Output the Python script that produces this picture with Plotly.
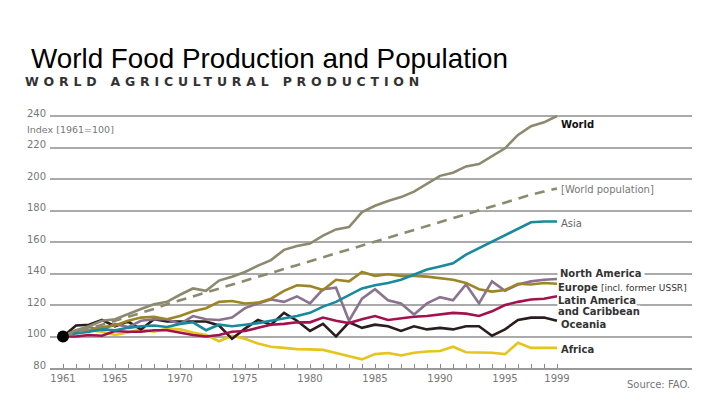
import plotly.graph_objects as go

years = list(range(1961, 2000))
label_years = [1961, 1965, 1970, 1975, 1980, 1985, 1990, 1995, 1999]
y_ticks = [80, 100, 120, 140, 160, 180, 200, 220, 240]

world = [100, 104, 106.5, 110, 111, 114.5, 117.5, 120.5, 122, 126.5,
         130.5, 129, 135.5, 138, 141, 145, 148.5, 155, 157.5, 159,
         164, 168, 169.5, 179, 183, 186, 188.5, 192, 197, 202,
         204, 208, 209.5, 214.5, 219.5, 228, 233.5, 236, 240]
world_population = [100, 102.5, 105, 107.5, 110, 112.5, 115, 117.5, 120.5, 123,
                    125.5, 128, 130.5, 133, 135.5, 138, 140.5, 143, 145.5, 148,
                    150.5, 153, 155.5, 158, 160.5, 163, 165.5, 168, 170.5, 173,
                    175.5, 178, 180.5, 183, 185.5, 188, 190, 192, 194]
asia = [100, 102, 103, 104.5, 104, 105.5, 106.5, 107, 106, 108,
        109, 104, 107.5, 106.5, 107.5, 108.5, 110, 111.5, 113, 115,
        119, 122, 126.5, 130.5, 132.5, 134, 136, 139.5, 142.5, 144.5,
        146.5, 152, 156, 160, 164, 168, 172.5, 173, 173]
north_america = [100, 103, 106, 104, 108, 106, 110, 111, 111, 108,
                 113, 111, 110.5, 112, 118, 121, 123.5, 122, 125.5, 121,
                 130, 131, 110, 124, 130, 123, 121, 114, 121, 125,
                 123, 133, 121, 135, 129, 133, 135, 136, 136.5]
europe = [100, 104, 104, 106, 107, 110, 112, 112.5, 111, 113,
          116, 118, 122, 122.5, 121, 121.5, 124, 129, 132.5, 132,
          129.5, 136, 135, 141, 138.5, 139.5, 138.5, 138.5, 138, 137,
          136, 134, 130, 128.5, 129.5, 133.5, 133, 134, 133.5]
latin_america = [100, 100, 101, 100.5, 103.5, 103, 103, 104, 104, 102.5,
                 101, 100, 101, 103, 103.5, 105.5, 107.5, 108, 109, 109,
                 112, 110, 108.5, 111, 113, 110.5, 111.5, 112.5, 113, 114,
                 115, 114.5, 113, 116, 120, 122, 123.5, 124, 125.5]
oceania = [100, 107, 107.5, 110.5, 106.5, 109.5, 104.5, 111, 109.5, 109.5,
           109.5, 109.5, 107, 98.5, 105, 110.5, 107.5, 115, 110, 103.5,
           108, 100, 109, 105.5, 107.5, 106.5, 103.5, 106.5, 104.5, 105.5,
           104.5, 106.5, 106.5, 100.5, 104.5, 110.5, 112, 112, 110]
africa = [100, 102, 104, 103, 101, 102.5, 104.5, 103, 105, 104.5,
          102.5, 101, 97, 100.5, 98.5, 95.5, 93.5, 92.8, 92, 91.8,
          91.5, 89.5, 87.5, 85.5, 88.8, 89.5, 88, 89.7, 90.5, 90.8,
          93.5, 90, 89.8, 89.7, 88.8, 96, 92.8, 92.8, 92.8]

series = [
    ("Africa", africa, "#e5c41c", None),
    ("Oceania", oceania, "#2b1d1e", None),
    ("Latin America and Caribbean", latin_america, "#a3124e", None),
    ("North America", north_america, "#8b7290", None),
    ("Europe", europe, "#9c8526", None),
    ("Asia", asia, "#178a9c", None),
    ("World population", world_population, "#8c8a6e", "10px,7px"),
    ("World", world, "#8c8a6e", None),
]

fig = go.Figure()
for name, vals, color, dash in series:
    fig.add_trace(go.Scatter(
        x=years, y=vals, mode="lines", name=name,
        line=dict(color=color, width=2.6, dash=dash) if dash else dict(color=color, width=2.6),
        hoverinfo="skip"))
fig.add_trace(go.Scatter(x=[years[0]], y=[world[0]], mode="markers",
                         marker=dict(color="black", size=12), hoverinfo="skip"))

L, R, T, B = 50, 28, 114, 37
W, H = 720, 405
PW, PH = W - L - R, H - T - B


def px(xp):
    return (xp - L) / PW


def py(yp):
    return (H - B - yp) / PH


FONT = "DejaVu Sans"
ann = []


def add(text, xp, yp, size=10, color="#333", xanchor="left", bg=None, family=FONT, pad=1):
    d = dict(text=text, x=px(xp), y=py(yp), xref="paper", yref="paper",
             xanchor=xanchor, yanchor="middle", showarrow=False,
             font=dict(family=family, size=size, color=color), borderpad=pad)
    if bg:
        d["bgcolor"] = bg
    ann.append(d)


add("World Food Production and Population", 29, 59, size=27.8, color="#000",
    family="Liberation Sans")
add('<span style="letter-spacing:4.8px"><b>WORLD AGRICULTURAL PRODUCTION</b></span>',
    23, 81, size=12.5, color="#333")
add("Index [1961=100]", 25, 129.5, size=9.5, color="#777")

add("<b>World</b>", 559, 124, size=10, color="#111")
add("[World population]", 559, 189, size=10, color="#777")
add("Asia", 559, 223, size=10, color="#666")
add("<b>North America</b>", 557, 273, size=10, color="#333", bg="white", pad=2)
add('<b>Europe</b> <span style="font-size:9px">[incl. former USSR]</span>', 557, 287,
    size=10, color="#333", bg="white", pad=0)
add("<b>Latin America</b>", 557, 300, size=10, color="#333", bg="white", pad=0)
add("<b>and Caribbean</b>", 557, 311.5, size=10, color="#333", bg="white", pad=0)
add("<b>Oceania</b>", 559, 324.5, size=10, color="#333")
add("<b>Africa</b>", 559, 349.5, size=10, color="#333")
add("Source: FAO.", 692, 384, size=10, color="#777", xanchor="right")

fig.update_layout(
    width=W, height=H,
    margin=dict(l=L, r=R, t=T, b=B),
    paper_bgcolor="white", plot_bgcolor="white",
    showlegend=False,
    annotations=ann,
    xaxis=dict(range=[1960, 1960 + PW / 13.0], tickvals=years,
               ticktext=[str(y) if y in label_years else "" for y in years],
               ticks="inside", ticklen=4, tickcolor="#888", tickwidth=1,
               showgrid=False, zeroline=False, showline=True,
               linecolor="#999", linewidth=1.5,
               tickfont=dict(family=FONT, size=10, color="#777")),
    yaxis=dict(range=[80, 80 + PH / 1.575], tickvals=y_ticks,
               ticktext=[str(v) for v in y_ticks],
               showgrid=True, gridcolor="#aaaaaa", gridwidth=1.5,
               zeroline=False, showline=False, ticks="",
               ticklabelshift=-3, ticklabelstandoff=3,
               tickfont=dict(family=FONT, size=10, color="#777")),
)

fig.write_html("out.html", config={"displayModeBar": False},
               post_script="document.body.style.margin='0';")
